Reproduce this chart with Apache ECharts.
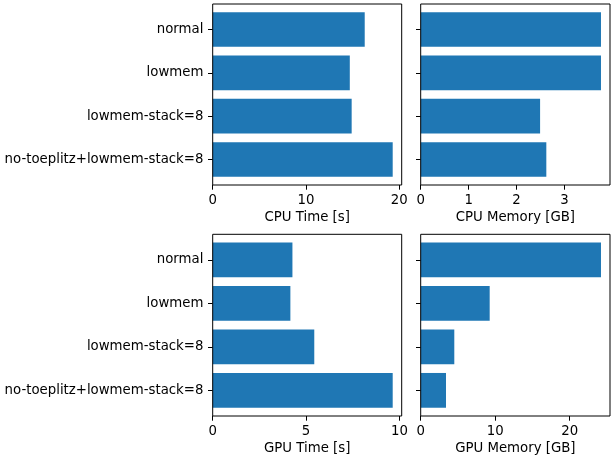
<!DOCTYPE html>
<html>
<head>
<meta charset="utf-8">
<script src="https://cdn.jsdelivr.net/npm/echarts@6/dist/echarts.min.js"></script>
<style>
    html, body {margin: 0; padding: 0; background: #fff;}
    #main {width: 614px; height: 461px;}
</style>
</head>
<body>
<div id="main"></div>
<script>
var categories = ['normal', 'lowmem', 'lowmem-stack=8', 'no-toeplitz+lowmem-stack=8'];
var cpuTime = [16.3, 14.7, 14.9, 19.3];
var cpuMem = [3.76, 3.76, 2.49, 2.62];
var gpuTime = [4.27, 4.16, 5.44, 9.64];
var gpuMem = [24.2, 9.26, 4.51, 3.40];
var cpuTimeTicks = [0, 10, 20];
var cpuMemTicks = [0, 1, 2, 3];
var gpuTimeTicks = [0, 5, 10];
var gpuMemTicks = [0, 10, 20];

var FONT = 'DejaVu Sans';
var BLUE = '#1f77b4';

// panels: frame box + the data to draw in it
var panels = [
    {left: 212.7, top: 4, width: 189, height: 181, data: cpuTime, ticks: cpuTimeTicks, name: 'CPU Time [s]', labels: true},
    {left: 420.7, top: 4, width: 189.3, height: 181, data: cpuMem, ticks: cpuMemTicks, name: 'CPU Memory [GB]', labels: false},
    {left: 212.7, top: 234.3, width: 189, height: 181.7, data: gpuTime, ticks: gpuTimeTicks, name: 'GPU Time [s]', labels: true},
    {left: 420.7, top: 234.3, width: 189.3, height: 181.7, data: gpuMem, ticks: gpuMemTicks, name: 'GPU Memory [GB]', labels: false}
];

var grid = [], xAxis = [], yAxis = [], series = [];

// frame grids (0-3): border + visible x axis
panels.forEach(function (p, i) {
    var xmax = Math.max.apply(null, p.data) * 1.05;
    grid.push({
        show: true, z: 5, left: p.left, top: p.top, width: p.width, height: p.height,
        borderColor: '#000', borderWidth: 1, backgroundColor: 'transparent'
    });
    xAxis.push({
        type: 'value', gridIndex: i, min: 0, max: xmax,
        name: p.name, nameLocation: 'middle', nameGap: 26,
        nameTextStyle: {fontFamily: FONT, fontSize: 13.3, color: '#000'},
        axisLine: {show: false},
        splitLine: {show: false},
        axisTick: {show: true, inside: false, length: 4.7, customValues: p.ticks, lineStyle: {color: '#000', width: 1}},
        axisLabel: {margin: 9.3, customValues: p.ticks, fontFamily: FONT, fontSize: 13.3, color: '#000'}
    });
    yAxis.push({type: 'value', gridIndex: i, show: false, min: 0, max: 1});
});

// data grids (4-7): bars on category y axis, band area inset by matplotlib margin
panels.forEach(function (p, i) {
    var xmax = Math.max.apply(null, p.data) * 1.05;
    var unit = p.height / 4.18;
    var inset = 0.09 * unit;
    grid.push({left: p.left, top: p.top + inset, width: p.width, height: p.height - 2 * inset});
    xAxis.push({type: 'value', gridIndex: 4 + i, min: 0, max: xmax, show: false});
    yAxis.push({
        type: 'category', gridIndex: 4 + i, data: categories, inverse: true,
        axisLine: {show: false},
        axisTick: {show: true, alignWithLabel: true, inside: false, length: 4.7, lineStyle: {color: '#000'}},
        axisLabel: {show: p.labels, margin: 9.3, fontFamily: FONT, fontSize: 13.3, color: '#000'}
    });
    series.push({
        type: 'bar', xAxisIndex: 4 + i, yAxisIndex: 4 + i,
        data: p.data, barCategoryGap: '20%',
        itemStyle: {color: BLUE}, silent: true
    });
});

var myChart = echarts.init(document.getElementById('main'), null, {renderer: 'canvas'});
myChart.setOption({
    animation: false,
    backgroundColor: '#fff',
    grid: grid,
    xAxis: xAxis,
    yAxis: yAxis,
    series: series
});
</script>
</body>
</html>
